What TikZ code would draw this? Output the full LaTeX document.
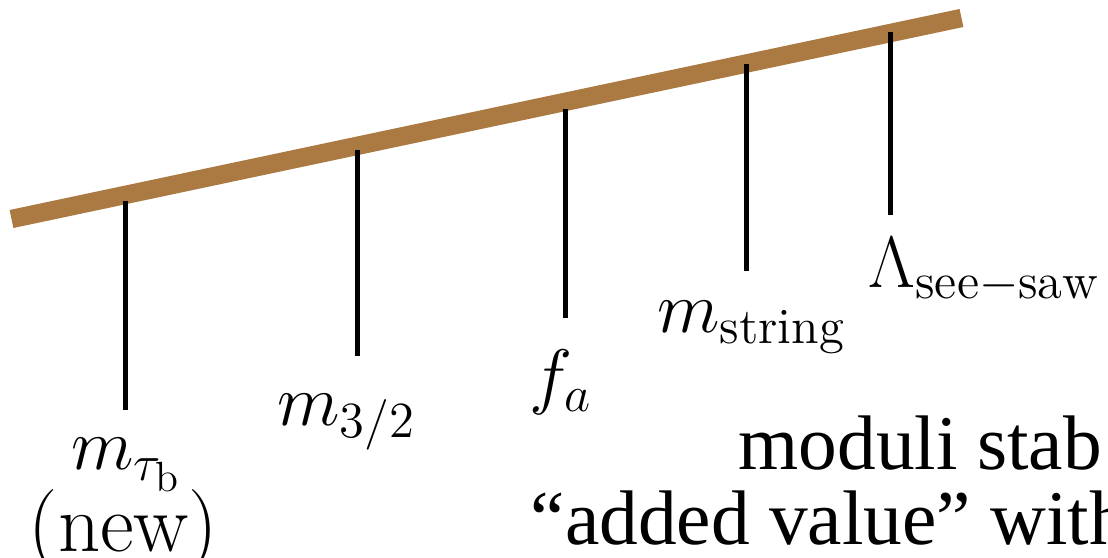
\documentclass[tikz,border=0pt]{standalone}
\usepackage{fontspec}
\usepackage{amsmath}
\usetikzlibrary{positioning}
\newfontfamily\slidefont{Liberation Serif}
\definecolor{barbrown}{RGB}{171,122,66}
\tikzset{
    scalebar/.style={line width=0.184cm, draw=barbrown},
    scaletick/.style={line width=0.05cm, draw=black},
    scalelbl/.style={font=\huge, inner sep=0pt, align=center},
    slidetxt/.style={font=\slidefont\fontsize{22}{26}\selectfont,
                     inner sep=0pt, anchor=base west},
}

\begin{document}
\begin{tikzpicture}[x=0.01cm, y=-0.01cm]
    \useasboundingbox (0,0) rectangle (1108,558);
    % the scale
    \coordinate (bar west) at (11.5,219);
    \coordinate (bar east) at (961.5,18);
    \draw[scalebar] (bar west) -- (bar east);
    % ticks hanging from the scale
    \coordinate (tau top) at (125.5,201);  \coordinate (tau bot) at (125.5,410);
    \coordinate (grav top) at (357.5,150); \coordinate (grav bot) at (357.5,356);
    \coordinate (axn top) at (565,109);    \coordinate (axn bot) at (565,318);
    \coordinate (str top) at (746.5,64);   \coordinate (str bot) at (746.5,271);
    \coordinate (ssw top) at (890.5,32);   \coordinate (ssw bot) at (890.5,215);
    \draw[scaletick] (tau top) -- (tau bot);
    \draw[scaletick] (grav top) -- (grav bot);
    \draw[scaletick] (axn top) -- (axn bot);
    \draw[scaletick] (str top) -- (str bot);
    \draw[scaletick] (ssw top) -- (ssw bot);
    % scale labels
    \node[scalelbl, below=0.27cm of tau bot, xshift=0.01cm] (tau) {$m_{\tau_{\mathrm{b}}}$};
    \node[scalelbl, font=\fontsize{23.5}{28}\selectfont, anchor=base]
        (tau new) at ([yshift=-0.82cm, xshift=-0.03cm]tau.base) {(new)};
    \node[scalelbl, below=0.37cm of grav bot, xshift=-0.11cm] (grav) {$m_{3/2}$};
    \node[scalelbl, below=0.31cm of axn bot, xshift=-0.04cm] (axn) {$f_a$};
    \node[scalelbl, below=0.29cm of str bot, xshift=0.05cm] (str) {$m_{\mathrm{string}}$};
    \node[scalelbl, below right=0.22cm and -0.225cm of ssw bot] (ssw) {$\Lambda_{\mathrm{see-saw}}$};
    % slide text
    \node[slidetxt] (modstab) at (738,470) {moduli stab};
    \node[slidetxt] (addval) at (530,545) {“added value” with};
\end{tikzpicture}
\end{document}
